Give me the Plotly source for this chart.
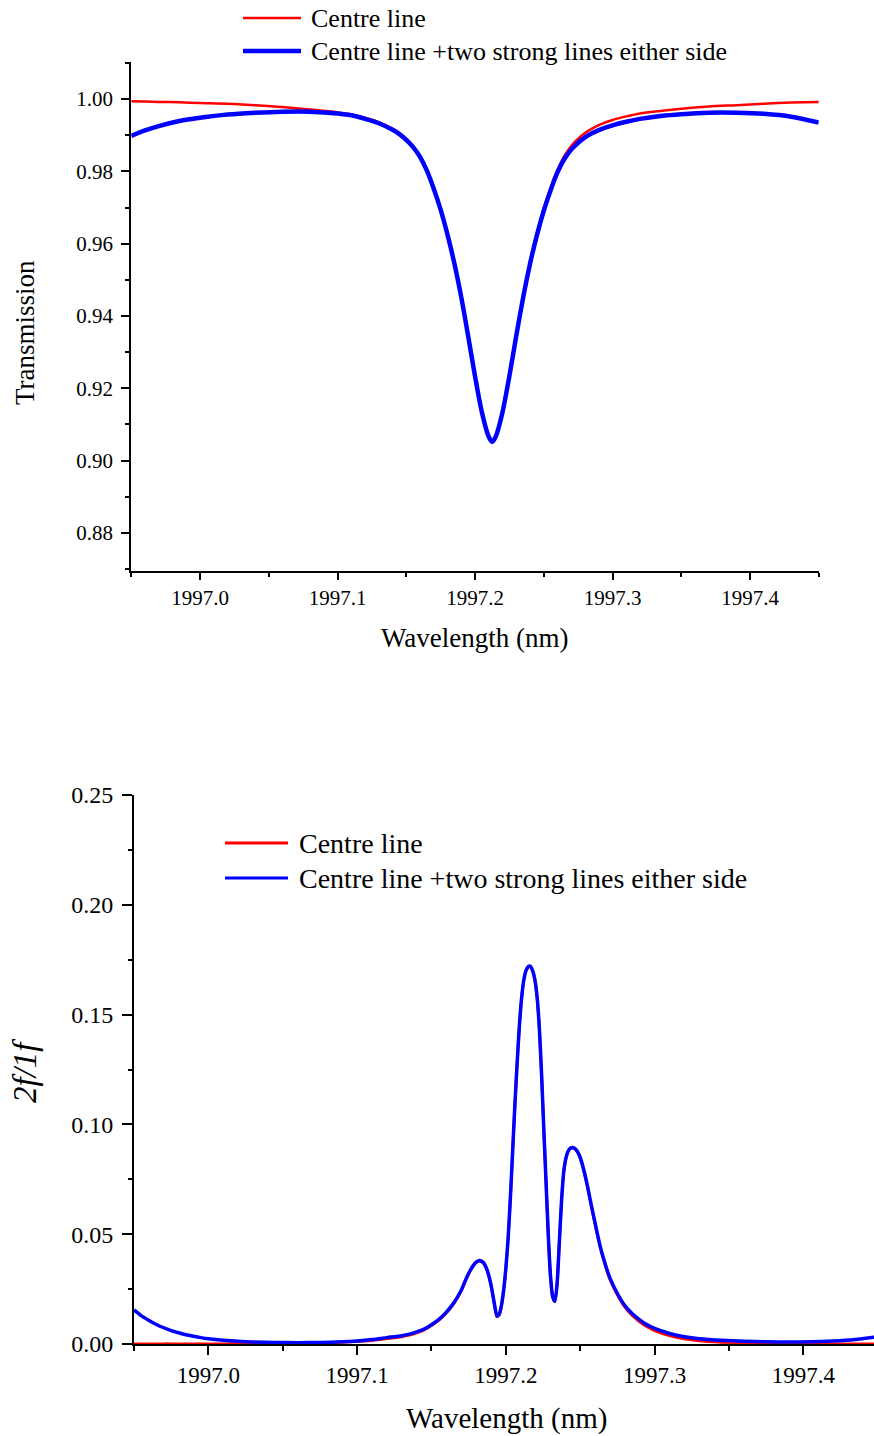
import plotly.graph_objects as go

# ---------------- Transmission spectra ----------------
wl_top = [1996.95, 1996.96, 1996.97, 1996.985, 1997.00, 1997.02, 1997.04, 1997.06,
          1997.08, 1997.10, 1997.11, 1997.12, 1997.13, 1997.14, 1997.145, 1997.15,
          1997.155, 1997.16, 1997.165, 1997.17, 1997.175, 1997.18, 1997.185, 1997.19,
          1997.195, 1997.20, 1997.205, 1997.21, 1997.2125, 1997.215, 1997.22, 1997.225,
          1997.23, 1997.235, 1997.24, 1997.245, 1997.25, 1997.255, 1997.26, 1997.265,
          1997.27, 1997.275, 1997.28, 1997.285, 1997.29, 1997.30, 1997.31, 1997.32,
          1997.335, 1997.35, 1997.37, 1997.39, 1997.41, 1997.43, 1997.45]

trans_centre = [0.9994, 0.9993, 0.9992, 0.9991, 0.9989, 0.9987, 0.9983, 0.9978,
                0.9971, 0.9963, 0.9957, 0.9948, 0.9936, 0.9918, 0.9906, 0.9890,
                0.9870, 0.9843, 0.9805, 0.9755, 0.9697, 0.9628, 0.9548, 0.9455,
                0.9348, 0.9237, 0.9137, 0.9069, 0.9055, 0.9069, 0.9137, 0.9237,
                0.9348, 0.9455, 0.9548, 0.9628, 0.9697, 0.9755, 0.9805, 0.9843,
                0.9870, 0.9890, 0.9906, 0.9918, 0.9928, 0.9942, 0.9952, 0.9960,
                0.9967, 0.9973, 0.9979, 0.9983, 0.9987, 0.9990, 0.9992]

trans_neigh = [0.9898, 0.9913, 0.9925, 0.9939, 0.9948, 0.9957, 0.9962, 0.9965,
               0.9965, 0.9960, 0.9955, 0.9945, 0.9933, 0.9915, 0.9903, 0.9887,
               0.9867, 0.9840, 0.9802, 0.9752, 0.9694, 0.9625, 0.9545, 0.9452,
               0.9345, 0.9234, 0.9134, 0.9066, 0.9052, 0.9066, 0.9134, 0.9234,
               0.9345, 0.9451, 0.9544, 0.9623, 0.9691, 0.9748, 0.9797, 0.9834,
               0.9860, 0.9879, 0.9894, 0.9905, 0.9914, 0.9927, 0.9937, 0.9945,
               0.9953, 0.9958, 0.9962, 0.9962, 0.9959, 0.9951, 0.9935]

# ---------------- 2f/1f signal ----------------
wl_bot = [1996.95, 1996.955, 1996.96, 1996.965, 1996.97, 1996.975, 1996.98, 1996.985,
          1996.99, 1996.995, 1997.00, 1997.01, 1997.02, 1997.03, 1997.045, 1997.06,
          1997.075, 1997.09, 1997.10, 1997.11, 1997.12, 1997.13,
          1997.135, 1997.14, 1997.145, 1997.15, 1997.155, 1997.16,
          1997.165, 1997.17, 1997.1725, 1997.175, 1997.1775, 1997.18, 1997.1825,
          1997.185, 1997.1875, 1997.19, 1997.1925, 1997.194, 1997.1955, 1997.197,
          1997.1985, 1997.200, 1997.2015, 1997.203, 1997.2045, 1997.206, 1997.2075,
          1997.209, 1997.2105, 1997.212, 1997.2135, 1997.215, 1997.2165, 1997.218,
          1997.2195, 1997.221, 1997.2225, 1997.224, 1997.2255, 1997.227, 1997.2285,
          1997.230, 1997.2315, 1997.233, 1997.2345, 1997.236, 1997.2375, 1997.239,
          1997.2405, 1997.242, 1997.2435, 1997.245, 1997.2465, 1997.248, 1997.250,
          1997.2525, 1997.255, 1997.2575, 1997.260, 1997.2625, 1997.265, 1997.270,
          1997.275, 1997.280, 1997.285, 1997.290, 1997.295, 1997.300, 1997.310,
          1997.320, 1997.330, 1997.345, 1997.360, 1997.375, 1997.390, 1997.405,
          1997.420, 1997.435, 1997.450]

ratio_neigh = [0.0155, 0.0128, 0.0108, 0.0089, 0.0074, 0.0061, 0.0051, 0.0042,
               0.0035, 0.0029, 0.0024, 0.0017, 0.0012, 0.0009, 0.0007, 0.0006,
               0.0007, 0.0010, 0.0014, 0.0020, 0.0029, 0.0038,
               0.0045, 0.0055, 0.0068, 0.0088, 0.0112, 0.0145,
               0.0188, 0.0245, 0.0285, 0.0322, 0.0352, 0.0373, 0.0380,
               0.0370, 0.0335, 0.0270, 0.0175, 0.0127, 0.0135, 0.0175,
               0.0245, 0.0345, 0.0480, 0.0660, 0.0870, 0.1080, 0.1270,
               0.1440, 0.1570, 0.1655, 0.1700, 0.1718, 0.1720, 0.1700,
               0.1660, 0.1580, 0.1440, 0.1230, 0.0980, 0.0740, 0.0500,
               0.0310, 0.0215, 0.0195, 0.0280, 0.0470, 0.0660, 0.0790,
               0.0850, 0.0880, 0.0893, 0.0895, 0.0890, 0.0878, 0.0850,
               0.0790, 0.0715, 0.0630, 0.0550, 0.0472, 0.0405, 0.0300,
               0.0230, 0.0175, 0.0138, 0.0110, 0.0087, 0.0071, 0.0048,
               0.0033, 0.0024, 0.0017, 0.0013, 0.0010, 0.0009, 0.0010,
               0.0014, 0.0021, 0.0033]

ratio_centre = [0.0000, 0.0000, 0.0000, 0.0000, 0.0001, 0.0001, 0.0001, 0.0001,
                0.0001, 0.0001, 0.0001, 0.0001, 0.0002, 0.0002, 0.0003, 0.0004,
                0.0005, 0.0008, 0.0011, 0.0016, 0.0024, 0.0033,
                0.0040, 0.0050, 0.0064, 0.0084, 0.0108, 0.0141,
                0.0184, 0.0241, 0.0281, 0.0318, 0.0349, 0.0370, 0.0377,
                0.0367, 0.0332, 0.0267, 0.0172, 0.0124, 0.0132, 0.0172,
                0.0242, 0.0342, 0.0477, 0.0657, 0.0867, 0.1077, 0.1267,
                0.1437, 0.1567, 0.1652, 0.1697, 0.1715, 0.1717, 0.1697,
                0.1657, 0.1577, 0.1437, 0.1227, 0.0977, 0.0737, 0.0497,
                0.0307, 0.0212, 0.0192, 0.0277, 0.0467, 0.0657, 0.0787,
                0.0847, 0.0877, 0.0890, 0.0892, 0.0887, 0.0875, 0.0846,
                0.0786, 0.0711, 0.0626, 0.0545, 0.0467, 0.0400, 0.0294,
                0.0223, 0.0168, 0.0130, 0.0101, 0.0078, 0.0061, 0.0038,
                0.0023, 0.0014, 0.0008, 0.0005, 0.0003, 0.0002, 0.0001,
                0.0001, 0.0000, 0.0000]

x_ticks = [1997.0, 1997.1, 1997.2, 1997.3, 1997.4]
legend_labels = ["Centre line", "Centre line +two strong lines either side"]

RED = "#FF0000"
BLUE = "#0000FF"
FONT = "Liberation Serif"
W, H = 874, 1436


def px_x(p):
    return p / W


def px_y(p):
    return 1 - p / H


fig = go.Figure()

fig.add_trace(go.Scatter(x=wl_top, y=trans_centre, mode="lines", xaxis="x", yaxis="y",
                         line=dict(color=RED, width=2.5, shape="spline", smoothing=0.8),
                         name=legend_labels[0], showlegend=False))
fig.add_trace(go.Scatter(x=wl_top, y=trans_neigh, mode="lines", xaxis="x", yaxis="y",
                         line=dict(color=BLUE, width=4.5, shape="spline", smoothing=0.8),
                         name=legend_labels[1], showlegend=False))
fig.add_trace(go.Scatter(x=wl_bot, y=ratio_centre, mode="lines", xaxis="x2", yaxis="y2",
                         line=dict(color=RED, width=2.8, shape="spline", smoothing=0.6),
                         cliponaxis=False, name=legend_labels[0], showlegend=False))
fig.add_trace(go.Scatter(x=wl_bot, y=ratio_neigh, mode="lines", xaxis="x2", yaxis="y2",
                         line=dict(color=BLUE, width=3.5, shape="spline", smoothing=0.6),
                         cliponaxis=False, name=legend_labels[1], showlegend=False))

axis_common = dict(showline=True, linecolor="black", linewidth=2, showgrid=False,
                   zeroline=False, ticks="outside", tickcolor="black", tickwidth=2,
                   layer="below traces", mirror=False, automargin=False)

fig.update_layout(
    width=W, height=H,
    margin=dict(l=0, r=0, t=0, b=0, pad=0, autoexpand=False),
    paper_bgcolor="white", plot_bgcolor="white",
    showlegend=False,
    font=dict(family=FONT, color="black"),
    xaxis=dict(**axis_common, domain=[131.25 / W, 818.75 / W], range=[1996.95, 1997.45],
               anchor="y", tickvals=x_ticks, tickformat=".1f", ticklen=7,
               tickfont=dict(size=21, family=FONT, color="black"),
               minor=dict(dtick=0.05, tick0=1996.95, ticks="outside", ticklen=4,
                          tickwidth=2, tickcolor="black")),
    yaxis=dict(**axis_common, domain=[px_y(571), px_y(62)], range=[0.86949, 1.01023],
               anchor="x", dtick=0.02, tick0=0.88, tickformat=".2f", ticklen=8,
               tickfont=dict(size=21, family=FONT, color="black"), ticklabelstandoff=4,
               minor=dict(dtick=0.01, tick0=0.87, ticks="outside", ticklen=4,
                          tickwidth=2, tickcolor="black")),
    xaxis2=dict(**axis_common, domain=[134 / W, 1.0], range=[1996.95, 1997.4475],
                anchor="y2", tickvals=x_ticks, tickformat=".1f", ticklen=9,
                tickfont=dict(size=23, family=FONT, color="black"),
                minor=dict(dtick=0.05, tick0=1996.95, ticks="outside", ticklen=5,
                           tickwidth=2, tickcolor="black")),
    yaxis2=dict(**axis_common, domain=[px_y(1344), px_y(795)], range=[0, 0.25],
                anchor="x2", dtick=0.05, tick0=0, tickformat=".2f", ticklen=10,
                tickfont=dict(size=24, family=FONT, color="black"), ticklabelstandoff=4,
                minor=dict(dtick=0.025, tick0=0, ticks="outside", ticklen=4,
                           tickwidth=2, tickcolor="black")),
)

annotations = []
shapes = []


def add_text(x, y, text, size, angle=0, xanchor="center"):
    annotations.append(dict(x=px_x(x), y=px_y(y), xref="paper", yref="paper",
                            text=text, showarrow=False, textangle=angle,
                            xanchor=xanchor, yanchor="middle",
                            font=dict(family=FONT, size=size, color="black")))


def add_key(x0, x1, y, color, width):
    shapes.append(dict(type="line", xref="paper", yref="paper",
                       x0=px_x(x0), x1=px_x(x1), y0=px_y(y), y1=px_y(y),
                       line=dict(color=color, width=width)))


# axis titles
add_text(475, 638, "Wavelength (nm)", 27)
add_text(25, 333, "Transmission", 27, angle=-90)
add_text(506, 1418, "Wavelength (nm)", 29)
add_text(25, 1071, "<i>2f/1f</i>", 33, angle=-90)

# key for the transmission panel
add_key(243, 301, 18, RED, 2.5)
add_key(243, 301, 51, BLUE, 4.5)
add_text(309, 18, legend_labels[0], 26, xanchor="left")
add_text(309, 51, legend_labels[1], 26, xanchor="left")

# key for the 2f/1f panel
add_key(225, 288, 843, RED, 3)
add_key(225, 288, 878, BLUE, 3)
add_text(297, 843, legend_labels[0], 28, xanchor="left")
add_text(297, 878, legend_labels[1], 28, xanchor="left")

fig.update_layout(annotations=annotations, shapes=shapes)

fig.write_html("out.html")
